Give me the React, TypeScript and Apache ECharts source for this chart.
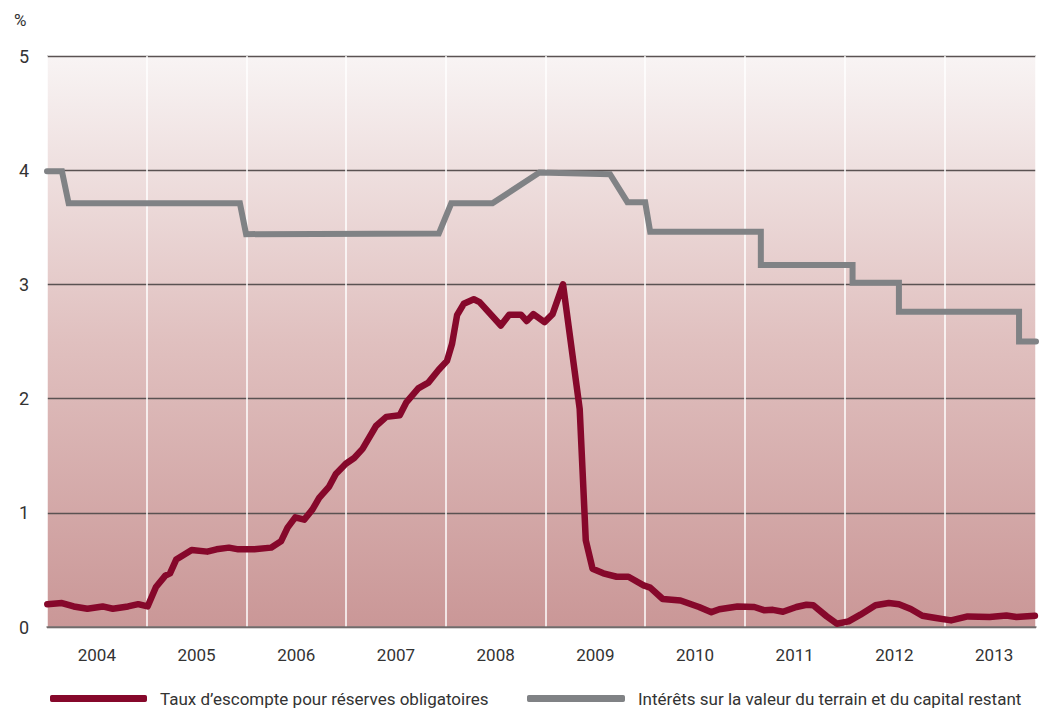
import React, { useEffect, useRef } from "react";
import * as echarts from "echarts";

const yearLabels = [2004, 2005, 2006, 2007, 2008, 2009, 2010, 2011, 2012, 2013];

const redName = "Taux d’escompte pour réserves obligatoires";
const grayName = "Intérêts sur la valeur du terrain et du capital restant";

// decimal-year positions and values (%)
const redDates = [
  2004.003, 2004.15, 2004.268, 2004.405, 2004.558, 2004.66, 2004.813, 2004.915,
  2005.009, 2005.093, 2005.187, 2005.234, 2005.296, 2005.451, 2005.607, 2005.7, 2005.825, 2005.919,
  2006.08, 2006.247, 2006.347, 2006.413, 2006.49, 2006.58, 2006.663, 2006.73, 2006.83, 2006.897, 2006.997,
  2007.081, 2007.165, 2007.3, 2007.403, 2007.538, 2007.606, 2007.724, 2007.825, 2007.927,
  2008.012, 2008.063, 2008.113, 2008.18, 2008.281, 2008.339, 2008.552, 2008.636, 2008.754, 2008.812, 2008.879, 2008.99,
  2009.071, 2009.176, 2009.343, 2009.404, 2009.472, 2009.58, 2009.714, 2009.832, 2009.984,
  2010.05, 2010.176, 2010.354, 2010.54, 2010.664, 2010.744, 2010.926,
  2011.095, 2011.197, 2011.281, 2011.382, 2011.517, 2011.618, 2011.686, 2011.821, 2011.922,
  2012.04, 2012.159, 2012.31, 2012.444, 2012.545, 2012.664, 2012.78, 2012.916,
  2013.068, 2013.235, 2013.455, 2013.623, 2013.724, 2013.909,
];
const redValues = [
  0.2, 0.21, 0.18, 0.16, 0.18, 0.16, 0.18, 0.2,
  0.18, 0.35, 0.45, 0.47, 0.59, 0.675, 0.66, 0.68, 0.695, 0.68,
  0.68, 0.695, 0.75, 0.87, 0.96, 0.94, 1.03, 1.13, 1.23, 1.34, 1.43,
  1.48, 1.56, 1.76, 1.84, 1.855, 1.97, 2.09, 2.14, 2.25,
  2.33, 2.48, 2.73, 2.83, 2.87, 2.845, 2.64, 2.735, 2.735, 2.68, 2.74, 2.67,
  2.74, 3.0, 1.91, 0.76, 0.51, 0.47, 0.44, 0.44, 0.365,
  0.345, 0.245, 0.232, 0.175, 0.13, 0.155, 0.18,
  0.175, 0.146, 0.15, 0.134, 0.175, 0.195, 0.19, 0.093, 0.029,
  0.049, 0.108, 0.19, 0.21, 0.2, 0.158, 0.099, 0.079,
  0.058, 0.093, 0.087, 0.1, 0.087, 0.099,
];

const grayDates = [
  2004.0, 2004.15, 2004.217, 2005.935, 2005.997, 2007.93, 2008.055, 2008.468, 2008.939,
  2009.647, 2009.822, 2010.0, 2010.05, 2011.16, 2011.16, 2012.08, 2012.08,
  2012.545, 2012.545, 2013.75, 2013.75, 2013.92,
];
const grayValues = [
  3.99, 3.99, 3.71, 3.71, 3.44, 3.445, 3.71, 3.71, 3.98,
  3.965, 3.72, 3.72, 3.46, 3.46, 3.17, 3.17, 3.015,
  3.015, 2.76, 2.76, 2.5, 2.5,
];

const FONT = "Roboto, 'Liberation Sans', sans-serif";
const TEXT = "#333333";

export default function App() {
  const ref = useRef<HTMLDivElement>(null);
  useEffect(() => {
    if (!ref.current) return;
    const chart = echarts.init(ref.current, null, { renderer: "svg" });
    chart.setOption({
      animation: false,
      backgroundColor: "#ffffff",
      textStyle: { fontFamily: FONT },
      grid: {
        left: 47,
        right: 3,
        top: 56,
        bottom: 84,
        show: true,
        borderWidth: 0,
        backgroundColor: new echarts.graphic.LinearGradient(0, 0, 0, 1, [
          { offset: 0, color: "#f8f4f4" },
          { offset: 0.5, color: "#e0c0bf" },
          { offset: 1, color: "#ca9797" },
        ]),
      },
      graphic: [
        {
          type: "text",
          left: 14,
          top: 11,
          style: { text: "%", fontSize: 17, fill: TEXT, fontFamily: FONT },
        },
      ],
      legend: [
        {
          data: [redName],
          left: 45,
          top: 685,
          icon: "roundRect",
          itemWidth: 97,
          itemHeight: 7,
          textStyle: { fontSize: 17, color: TEXT, fontFamily: FONT, padding: [0, 0, 0, 8] },
          selectedMode: false,
        },
        {
          data: [grayName],
          left: 522,
          top: 685,
          icon: "roundRect",
          itemWidth: 98,
          itemHeight: 7,
          textStyle: { fontSize: 17, color: TEXT, fontFamily: FONT, padding: [0, 0, 0, 8] },
          selectedMode: false,
        },
      ],
      xAxis: {
        type: "value",
        min: 2004,
        max: 2013.92,
        interval: 1,
        axisLine: { show: true, lineStyle: { color: "#7a7474", width: 1.5 } },
        axisTick: { show: false },
        splitLine: { show: true, lineStyle: { color: "#ffffff", width: 1.5 } },
        axisLabel: {
          customValues: yearLabels.map((y) => y + 0.5),
          formatter: (v: number) => String(Math.floor(v)),
          fontSize: 17,
          color: TEXT,
          fontFamily: FONT,
          margin: 19,
        },
      },
      yAxis: {
        type: "value",
        min: 0,
        max: 5,
        interval: 1,
        axisLine: { show: false },
        axisTick: { show: false },
        splitLine: { show: true, lineStyle: { color: "#5a5252", width: 1.3 } },
        axisLabel: { fontSize: 18, color: TEXT, fontFamily: FONT, margin: 18 },
      },
      series: [
        {
          name: redName,
          type: "line",
          color: "#86082b",
          symbol: "none",
          clip: false,
          z: 3,
          lineStyle: { color: "#86082b", width: 6.5, cap: "round", join: "round" },
          data: redDates.map((d, i) => [d, redValues[i]]),
        },
        {
          name: grayName,
          type: "line",
          color: "#808285",
          symbol: "none",
          clip: false,
          z: 2,
          lineStyle: { color: "#808285", width: 6, cap: "round", join: "miter" },
          data: grayDates.map((d, i) => [d, grayValues[i]]),
        },
      ],
    });
    return () => chart.dispose();
  }, []);
  return (
    <div
      ref={ref}
      style={{ position: "fixed", left: 0, top: 0, width: 1039, height: 711 }}
    />
  );
}
